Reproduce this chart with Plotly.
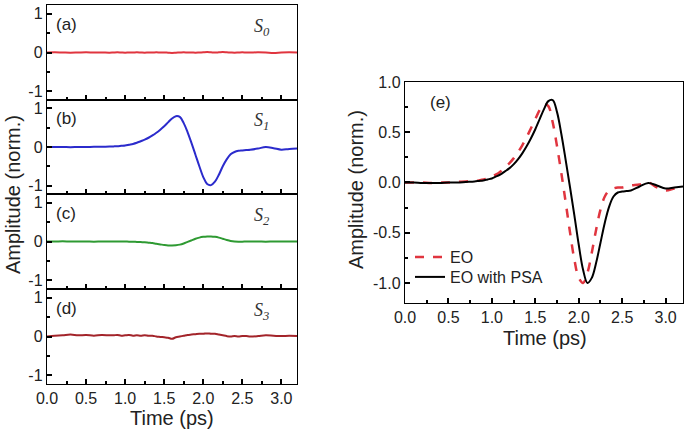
import plotly.graph_objects as go

W, H = 685, 435

time_ps = [0.0, 0.1, 0.2, 0.3, 0.4, 0.5, 0.6, 0.7, 0.8,
           0.85, 0.9, 0.95, 1.0, 1.05, 1.1, 1.15, 1.2, 1.25, 1.3, 1.35, 1.4,
           1.45, 1.5, 1.55, 1.6, 1.65, 1.7, 1.75, 1.8, 1.85, 1.9, 1.95, 2.0,
           2.05, 2.1, 2.15, 2.2, 2.25, 2.3, 2.35, 2.4, 2.45, 2.5, 2.55, 2.6,
           2.7, 2.8, 2.9, 3.0, 3.1, 3.2]

s0 = [0.0, 0.005, 0.0, -0.005, 0.0, 0.005, 0.0, 0.0, -0.005,
      0.0, 0.005, 0.0, -0.005, 0.0, 0.0, 0.005, 0.0, -0.005, 0.0, 0.0, 0.005,
      0.0, 0.0, -0.005, -0.01, -0.005, 0.0, 0.005, 0.0, 0.0, -0.005, 0.0, 0.005,
      0.01, 0.005, 0.0, 0.005, 0.01, 0.005, 0.0, -0.005, 0.0, 0.005, 0.0, 0.0,
      0.005, 0.0, -0.01, 0.0, 0.005, 0.0]

s1 = [0.0, 0.0, 0.0, -0.005, 0.0, 0.0, 0.005, 0.005, 0.01,
      0.015, 0.02, 0.03, 0.04, 0.06, 0.08, 0.11, 0.15, 0.19, 0.24, 0.30, 0.37,
      0.45, 0.54, 0.64, 0.74, 0.80, 0.78, 0.62, 0.38, 0.10, -0.20, -0.50, -0.78,
      -0.96, -0.99, -0.90, -0.72, -0.50, -0.32, -0.19, -0.13, -0.10, -0.09, -0.08, -0.07,
      -0.04, 0.0, -0.03, -0.07, -0.05, -0.04]

s2 = [0.0, 0.0, 0.005, 0.0, 0.0, 0.0, -0.005, 0.0, 0.0,
      0.0, 0.0, 0.0, 0.0, -0.005, -0.005, -0.01, -0.015, -0.02, -0.03, -0.04, -0.06,
      -0.075, -0.09, -0.1, -0.1, -0.095, -0.08, -0.05, -0.01, 0.03, 0.07, 0.1, 0.12,
      0.13, 0.13, 0.12, 0.1, 0.07, 0.04, 0.015, 0.0, -0.005, -0.005, 0.0, 0.0,
      0.0, -0.005, 0.0, 0.0, 0.0, 0.0]

s3 = [0.0, 0.02, 0.03, 0.05, 0.03, 0.04, 0.02, 0.04, 0.03,
      0.03, 0.04, 0.02, 0.03, 0.04, 0.02, 0.03, 0.02, 0.03, 0.02, 0.02, 0.0,
      -0.01, -0.02, -0.03, -0.06, -0.02, 0.0, 0.02, 0.04, 0.05, 0.06, 0.07, 0.07,
      0.08, 0.07, 0.07, 0.05, 0.03, 0.01, 0.0, 0.01, 0.0, 0.01, 0.01, 0.0,
      0.01, 0.03, 0.02, 0.01, 0.02, 0.01]

eo = [0.0, 0.0, 0.0, -0.005, 0.0, 0.0, 0.005, 0.01, 0.015,
      0.02, 0.03, 0.04, 0.06, 0.08, 0.11, 0.15, 0.19, 0.24, 0.30, 0.37, 0.45,
      0.54, 0.63, 0.72, 0.78, 0.76, 0.60, 0.36, 0.09, -0.20, -0.50, -0.77, -0.95,
      -1.0, -0.90, -0.70, -0.47, -0.27, -0.14, -0.08, -0.06, -0.05, -0.05, -0.04, -0.03,
      -0.02, 0.0, -0.05, -0.08, -0.06, -0.04]

eo_psa = [0.0, 0.0, -0.005, -0.005, -0.005, 0.0, 0.0, 0.005, 0.01,
          0.015, 0.02, 0.03, 0.04, 0.06, 0.08, 0.11, 0.14, 0.18, 0.23, 0.29, 0.36,
          0.44, 0.53, 0.63, 0.73, 0.81, 0.82, 0.70, 0.48, 0.22, -0.05, -0.33, -0.62,
          -0.87, -1.0, -0.95, -0.80, -0.60, -0.40, -0.24, -0.14, -0.10, -0.09, -0.085, -0.08,
          -0.04, -0.005, -0.03, -0.06, -0.05, -0.04]

panel_labels = ["(a)", "(b)", "(c)", "(d)"]
stokes_labels = ["S<sub>0</sub>", "S<sub>1</sub>", "S<sub>2</sub>", "S<sub>3</sub>"]
stokes_series = [s0, s1, s2, s3]
stokes_colors = ["#e0353f", "#2b2bcc", "#2e9a32", "#a3242a"]

x_tickvals = [0.0, 0.5, 1.0, 1.5, 2.0, 2.5, 3.0]
x_ticktext = ["0.0", "0.5", "1.0", "1.5", "2.0", "2.5", "3.0"]
y_small_vals = [-1, 0, 1]
y_small_text = ["-1", "0", "1"]
y_e_vals = [-1.0, -0.5, 0.0, 0.5, 1.0]
y_e_text = ["-1.0", "-0.5", "0.0", "0.5", "1.0"]

FONT = "Liberation Sans, Arial, sans-serif"


def px(xp):
    return xp / W


def py(yp):
    return 1 - yp / H


fig = go.Figure()

left_x = [px(47), px(297)]
tops = [5, 100, 194, 289, 384]

common_axis = dict(showline=True, linecolor="black", linewidth=1.4, mirror=True,
                   ticks="inside", tickcolor="black", tickwidth=1.5, ticklen=5,
                   showgrid=False, zeroline=False, automargin=False,
                   tickfont=dict(family=FONT, size=16, color="#222"))

annotations = []
for i in range(4):
    n = i + 1
    xa = "x" if n == 1 else f"x{n}"
    ya = "y" if n == 1 else f"y{n}"
    fig.add_trace(go.Scatter(x=time_ps, y=stokes_series[i], mode="lines",
                             line=dict(color=stokes_colors[i], width=2, shape="spline"),
                             xaxis=xa, yaxis=ya, showlegend=False))
    xkey = "xaxis" if n == 1 else f"xaxis{n}"
    ykey = "yaxis" if n == 1 else f"yaxis{n}"
    fig.layout[xkey] = dict(common_axis, domain=left_x, anchor=ya, range=[0, 3.2],
                            tickvals=x_tickvals, ticktext=x_ticktext,
                            showticklabels=(n == 4),
                            minor=dict(ticks="inside", ticklen=3, tickwidth=1.5,
                                       tickcolor="black", dtick=0.25, tick0=0))
    fig.layout[ykey] = dict(common_axis, domain=[py(tops[n]), py(tops[i])], anchor=xa,
                            range=[-1.22, 1.22], tickvals=y_small_vals,
                            ticktext=y_small_text,
                            minor=dict(ticks="inside", ticklen=3, tickwidth=1.5,
                                       tickcolor="black", tickvals=[-0.5, 0.5]))
    annotations.append(dict(x=px(54), y=py(tops[i] + 19), xref="paper", yref="paper",
                            text=panel_labels[i], showarrow=False, xanchor="left",
                            yanchor="middle",
                            font=dict(family=FONT, size=17, color="#222")))
    annotations.append(dict(x=px(252), y=py(tops[i] + 22), xref="paper", yref="paper",
                            text=stokes_labels[i], showarrow=False, xanchor="left",
                            yanchor="middle",
                            font=dict(family="Liberation Serif, Times New Roman, serif",
                                      size=18, color="#333", style="italic")))

# panel (e)
fig.add_trace(go.Scatter(x=time_ps, y=eo, mode="lines", name="EO", legend="legend",
                         line=dict(color="#e0353f", width=2.5, dash="dash", shape="spline"),
                         xaxis="x5", yaxis="y5"))
fig.add_trace(go.Scatter(x=time_ps, y=eo_psa, mode="lines", name="EO with PSA",
                         legend="legend2",
                         line=dict(color="black", width=2, shape="spline"),
                         xaxis="x5", yaxis="y5"))
fig.layout["xaxis5"] = dict(common_axis, domain=[px(405), px(683)], anchor="y5",
                            range=[0, 3.2], tickvals=x_tickvals, ticktext=x_ticktext,
                            minor=dict(ticks="inside", ticklen=3, tickwidth=1.5,
                                       tickcolor="black", dtick=0.25, tick0=0))
fig.layout["yaxis5"] = dict(common_axis, domain=[py(303), py(82)], anchor="x5",
                            range=[-1.2, 1.0], tickvals=y_e_vals, ticktext=y_e_text,
                            minor=dict(ticks="inside", ticklen=3, tickwidth=1.5,
                                       tickcolor="black", dtick=0.25, tick0=0))

annotations.append(dict(x=px(428), y=py(102), xref="paper", yref="paper", text="(e)",
                        showarrow=False, xanchor="left", yanchor="middle",
                        font=dict(family=FONT, size=17, color="#222")))
annotations.append(dict(x=px(172), y=py(418), xref="paper", yref="paper", text="Time (ps)",
                        showarrow=False, xanchor="center", yanchor="middle",
                        font=dict(family=FONT, size=20, color="#222")))
annotations.append(dict(x=px(13), y=py(195), xref="paper", yref="paper",
                        text="Amplitude (norm.)", textangle=-90,
                        showarrow=False, xanchor="center", yanchor="middle",
                        font=dict(family=FONT, size=20, color="#222")))
annotations.append(dict(x=px(545), y=py(338), xref="paper", yref="paper", text="Time (ps)",
                        showarrow=False, xanchor="center", yanchor="middle",
                        font=dict(family=FONT, size=20, color="#222")))
annotations.append(dict(x=px(356), y=py(190), xref="paper", yref="paper",
                        text="Amplitude (norm.)", textangle=-90,
                        showarrow=False, xanchor="center", yanchor="middle",
                        font=dict(family=FONT, size=20, color="#222")))

legend_style = dict(xanchor="left", yanchor="top", bgcolor="rgba(0,0,0,0)",
                    font=dict(family=FONT, size=16, color="#222"), itemwidth=30)

fig.update_layout(width=W, height=H, margin=dict(l=0, r=0, t=0, b=0, autoexpand=False),
                  paper_bgcolor="white", plot_bgcolor="white",
                  annotations=annotations,
                  legend=dict(legend_style, x=px(410), y=py(240)),
                  legend2=dict(legend_style, x=px(410), y=py(260)))

fig.write_html("out.html", config={"displayModeBar": False},
               post_script="document.body.style.margin='0px';document.body.style.overflow='hidden';")
